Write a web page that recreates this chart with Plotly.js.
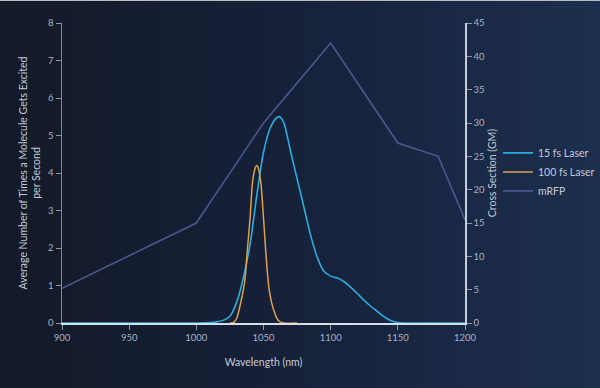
<!DOCTYPE html>
<html>
<head>
<meta charset="utf-8">
<script src="https://cdn.plot.ly/plotly-3.0.1.min.js"></script>
<style>
  html, body { margin: 0; padding: 0; }
  body { width: 600px; height: 388px; overflow: hidden;
         background: linear-gradient(90deg, #131a28 0%, #16213a 50%, #1c2f4e 100%); }
  #topline { position: absolute; left: 0; top: 0; width: 600px; height: 1px; background: #b9bcc2; }
  #chart { width: 600px; height: 388px; }
</style>
</head>
<body>
<div id="topline"></div>
<div id="chart"></div>
<script>
// 15 fs laser (left axis)
const fs15X = [900, 950, 1000, 1010, 1015, 1020, 1025, 1030, 1035, 1040, 1045, 1050, 1055, 1060, 1062, 1065, 1070, 1075, 1080, 1085, 1090, 1095, 1100, 1105, 1110, 1115, 1120, 1125, 1130, 1135, 1140, 1145, 1150, 1155, 1200];
const fs15Y = [0, 0, 0, 0.01, 0.03, 0.07, 0.18, 0.55, 1.2, 2.1, 3.4, 4.55, 5.2, 5.48, 5.5, 5.35, 4.6, 3.85, 3.1, 2.35, 1.75, 1.38, 1.25, 1.2, 1.1, 0.95, 0.78, 0.6, 0.44, 0.3, 0.16, 0.06, 0.01, 0, 0];

// 100 fs laser (left axis)
const fs100X = [1025, 1028, 1030, 1032, 1034, 1036, 1038, 1040, 1042, 1044, 1045, 1046, 1048, 1050, 1052, 1054, 1056, 1058, 1060, 1062, 1065, 1075];
const fs100Y = [0, 0.02, 0.12, 0.38, 0.7, 1.1, 1.95, 2.8, 3.8, 4.15, 4.2, 4.15, 3.75, 2.8, 1.75, 0.95, 0.55, 0.3, 0.12, 0.04, 0, 0];

// mRFP cross section (right axis, GM)
const mrfpX = [900, 1000, 1050, 1100, 1150, 1180, 1200];
const mrfpY = [5.2, 15, 30, 42, 27, 25, 15.5];

const xTicks = [900, 950, 1000, 1050, 1100, 1150, 1200];
const legendNames = ['15 fs Laser', '100 fs Laser', 'mRFP'];

const font = { family: 'Lato, sans-serif', size: 9.5, color: '#a7b1c3' };
const titleFont = { family: 'Lato, sans-serif', size: 10.5, color: '#c3cad6' };

const traces = [
  { x: fs15X, y: fs15Y, name: legendNames[0], type: 'scatter', mode: 'lines',
    line: { color: '#2aaee0', width: 1.6, shape: 'spline', smoothing: 0.8 } },
  { x: fs100X, y: fs100Y, name: legendNames[1], type: 'scatter', mode: 'lines',
    line: { color: '#e0a048', width: 1.5, shape: 'spline', smoothing: 0.8 } },
  { x: mrfpX, y: mrfpY, name: legendNames[2], type: 'scatter', mode: 'lines', yaxis: 'y2',
    line: { color: '#4b5891', width: 1.6 } }
];

const layout = {
  width: 600, height: 388,
  margin: { l: 62, r: 135, t: 23, b: 65, autoexpand: false },
  paper_bgcolor: 'rgba(0,0,0,0)',
  plot_bgcolor: 'rgba(0,0,0,0)',
  font: font,
  showlegend: true,
  legend: { xref: 'container', yref: 'container', x: 0.83, y: 0.557, xanchor: 'left', yanchor: 'middle',
            bgcolor: 'rgba(0,0,0,0)', font: { family: 'Lato, sans-serif', size: 10.5, color: '#c3cad6' },
            tracegroupgap: 4, itemwidth: 30 },
  xaxis: {
    range: [900, 1200], tickvals: xTicks, ticktext: xTicks.map(String),
    showgrid: false, zeroline: false, showline: true, linecolor: '#d8dde6', linewidth: 1.5,
    ticks: 'outside', ticklen: 5, tickcolor: '#8d97aa', tickfont: font,
    title: { text: 'Wavelength (nm)', font: titleFont, standoff: 16 }
  },
  yaxis: {
    range: [0, 8], dtick: 1,
    showgrid: false, zeroline: false, showline: true, mirror: true, linecolor: '#7c89b0', linewidth: 1.5,
    ticks: 'outside', ticklen: 5, tickcolor: '#8d97aa', tickfont: font,
    title: { text: 'Average Number of Times a Molecule Gets Excited<br>per Second',
             font: titleFont, standoff: 5 }
  },
  yaxis2: {
    range: [0, 45], dtick: 5, overlaying: 'y', side: 'right',
    showgrid: false, zeroline: false, showline: true, linecolor: '#c9ced8', linewidth: 1.5,
    ticks: 'outside', ticklen: 5, tickcolor: '#8d97aa', tickfont: font,
    title: { text: 'Cross Section (GM)', font: titleFont, standoff: 6 }
  }
};

Plotly.newPlot('chart', traces, layout, { displayModeBar: false, staticPlot: true });
</script>
</body>
</html>
